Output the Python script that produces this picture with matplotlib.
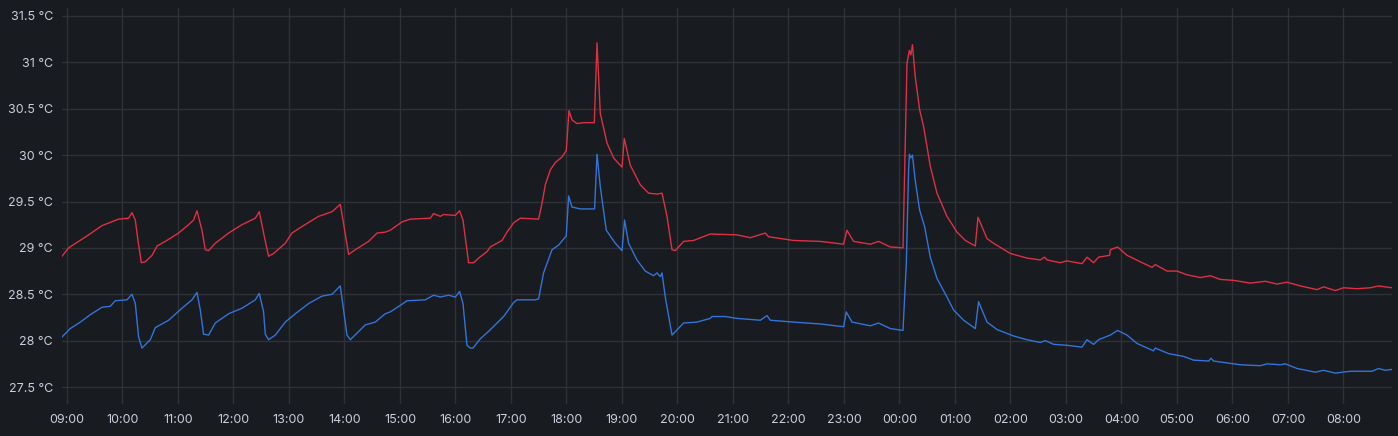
import numpy as np
import matplotlib
matplotlib.use("Agg")
import matplotlib.pyplot as plt
from matplotlib.ticker import FuncFormatter, MultipleLocator

# time in hours since midnight of day 1 (24+ = next day), values in °C
red_t = [8.910, 9.029, 9.389, 9.631, 9.930, 10.110, 10.171, 10.231, 10.279, 10.339,
         10.411, 10.532, 10.622, 10.771, 11.011, 11.191, 11.281, 11.342, 11.432, 11.492,
         11.551, 11.672, 11.912, 12.153, 12.393, 12.465, 12.542, 12.632, 12.723, 12.933,
         13.054, 13.234, 13.533, 13.775, 13.924, 13.984, 14.074, 14.195, 14.434, 14.586,
         14.735, 14.825, 15.036, 15.186, 15.546, 15.605, 15.726, 15.786, 15.996, 16.074,
         16.135, 16.236, 16.326, 16.416, 16.568, 16.627, 16.838, 16.928, 17.047, 17.168,
         17.468, 17.497, 17.559, 17.618, 17.708, 17.798, 17.919, 17.996, 18.045, 18.099,
         18.189, 18.308, 18.501, 18.550, 18.609, 18.730, 18.849, 19.000, 19.041, 19.150,
         19.330, 19.479, 19.631, 19.721, 19.811, 19.901, 19.960, 20.110, 20.290, 20.591,
         21.072, 21.312, 21.582, 21.641, 22.092, 22.572, 22.992, 23.053, 23.173, 23.474,
         23.623, 23.834, 24.063, 24.135, 24.178, 24.205, 24.234, 24.283, 24.362, 24.434,
         24.555, 24.676, 24.856, 25.036, 25.186, 25.366, 25.414, 25.577, 25.695, 25.996,
         26.297, 26.537, 26.614, 26.658, 26.897, 27.018, 27.288, 27.378, 27.497, 27.587,
         27.786, 27.798, 27.930, 28.099, 28.339, 28.550, 28.609, 28.820, 29.000, 29.180,
         29.420, 29.600, 29.780, 30.020, 30.321, 30.591, 30.802, 30.982, 31.222, 31.523,
         31.641, 31.852, 32.002, 32.243, 32.483, 32.632, 32.874]
red_v = [28.91, 29.00, 29.14, 29.24, 29.31, 29.32, 29.38, 29.30, 29.08, 28.84,
         28.85, 28.92, 29.02, 29.07, 29.16, 29.25, 29.30, 29.40, 29.19, 28.98,
         28.97, 29.05, 29.16, 29.25, 29.32, 29.39, 29.16, 28.91, 28.94, 29.05,
         29.16, 29.23, 29.34, 29.39, 29.47, 29.26, 28.93, 28.98, 29.07, 29.16,
         29.17, 29.19, 29.28, 29.31, 29.32, 29.37, 29.34, 29.36, 29.35, 29.40,
         29.30, 28.84, 28.84, 28.89, 28.96, 29.01, 29.08, 29.17, 29.27, 29.32,
         29.31, 29.31, 29.48, 29.68, 29.84, 29.92, 29.98, 30.05, 30.48, 30.38,
         30.34, 30.35, 30.35, 31.21, 30.45, 30.13, 29.97, 29.87, 30.18, 29.89,
         29.68, 29.59, 29.58, 29.59, 29.34, 28.98, 28.97, 29.07, 29.08, 29.15,
         29.14, 29.11, 29.16, 29.12, 29.08, 29.07, 29.04, 29.19, 29.07, 29.04,
         29.07, 29.01, 29.00, 30.99, 31.13, 31.08, 31.19, 30.85, 30.49, 30.31,
         29.88, 29.59, 29.34, 29.17, 29.08, 29.02, 29.33, 29.10, 29.05, 28.94,
         28.89, 28.87, 28.90, 28.87, 28.84, 28.86, 28.83, 28.90, 28.84, 28.90,
         28.92, 28.98, 29.01, 28.92, 28.85, 28.79, 28.82, 28.75, 28.75, 28.71,
         28.68, 28.70, 28.66, 28.65, 28.62, 28.64, 28.61, 28.63, 28.59, 28.55,
         28.58, 28.54, 28.57, 28.56, 28.57, 28.59, 28.57]

blue_t = [8.910, 9.059, 9.240, 9.420, 9.631, 9.780, 9.870, 10.081, 10.171, 10.231,
          10.290, 10.351, 10.501, 10.591, 10.831, 11.072, 11.252, 11.342, 11.402, 11.461,
          11.551, 11.672, 11.912, 12.153, 12.393, 12.465, 12.542, 12.573, 12.632, 12.753,
          12.933, 13.114, 13.353, 13.595, 13.775, 13.924, 13.984, 14.045, 14.105, 14.375,
          14.555, 14.735, 14.825, 15.005, 15.126, 15.456, 15.605, 15.726, 15.876, 15.996,
          16.074, 16.135, 16.207, 16.267, 16.315, 16.447, 16.596, 16.748, 16.867, 17.047,
          17.108, 17.438, 17.497, 17.587, 17.739, 17.858, 17.996, 18.038, 18.099, 18.249,
          18.506, 18.550, 18.609, 18.717, 18.880, 19.000, 19.047, 19.119, 19.270, 19.420,
          19.569, 19.631, 19.690, 19.721, 19.780, 19.901, 20.110, 20.351, 20.591, 20.622,
          20.861, 21.072, 21.492, 21.613, 21.672, 22.092, 22.573, 22.993, 23.041, 23.144,
          23.474, 23.623, 23.834, 24.063, 24.123, 24.164, 24.178, 24.205, 24.234, 24.283,
          24.362, 24.452, 24.555, 24.676, 24.856, 24.975, 25.155, 25.366, 25.425, 25.577,
          25.757, 26.056, 26.297, 26.537, 26.627, 26.777, 27.018, 27.288, 27.378, 27.497,
          27.587, 27.798, 27.930, 28.099, 28.279, 28.578, 28.609, 28.849, 29.119, 29.299,
          29.570, 29.613, 29.660, 30.020, 30.141, 30.501, 30.622, 30.862, 30.952, 31.162,
          31.492, 31.641, 31.852, 32.123, 32.362, 32.514, 32.632, 32.753, 32.874]
blue_v = [28.04, 28.13, 28.20, 28.28, 28.36, 28.37, 28.43, 28.44, 28.50, 28.40,
          28.04, 27.92, 28.01, 28.14, 28.22, 28.35, 28.44, 28.52, 28.33, 28.07,
          28.06, 28.19, 28.29, 28.35, 28.44, 28.51, 28.31, 28.07, 28.01, 28.06,
          28.20, 28.29, 28.40, 28.48, 28.50, 28.59, 28.33, 28.06, 28.01, 28.17,
          28.20, 28.29, 28.31, 28.38, 28.43, 28.44, 28.49, 28.47, 28.49, 28.47,
          28.53, 28.40, 27.95, 27.92, 27.92, 28.02, 28.10, 28.19, 28.26, 28.41,
          28.44, 28.44, 28.45, 28.73, 28.98, 29.03, 29.13, 29.56, 29.44, 29.42,
          29.42, 30.01, 29.66, 29.19, 29.05, 28.97, 29.30, 29.05, 28.87, 28.75,
          28.70, 28.73, 28.69, 28.73, 28.47, 28.06, 28.19, 28.20, 28.24, 28.26,
          28.26, 28.24, 28.22, 28.27, 28.22, 28.20, 28.18, 28.15, 28.31, 28.20,
          28.16, 28.19, 28.13, 28.11, 28.83, 29.84, 30.01, 29.97, 30.00, 29.73,
          29.41, 29.23, 28.90, 28.67, 28.47, 28.33, 28.22, 28.13, 28.42, 28.20,
          28.12, 28.05, 28.01, 27.98, 28.00, 27.96, 27.95, 27.93, 28.01, 27.96,
          28.01, 28.06, 28.11, 28.06, 27.97, 27.89, 27.92, 27.86, 27.83, 27.79,
          27.78, 27.81, 27.78, 27.75, 27.74, 27.73, 27.75, 27.74, 27.75, 27.70,
          27.66, 27.68, 27.65, 27.67, 27.67, 27.67, 27.70, 27.68, 27.69]

hour_ticks = list(range(9, 33))

bg = "#181b1f"
txt = "#ccccdc"
grid_c = "#2e3136"

plt.rcParams['font.family'] = ['Inter', 'DejaVu Sans']

fig = plt.figure(figsize=(13.98, 4.36), dpi=100, facecolor=bg)
ax = fig.add_axes([62 / 1398, 1 - 404 / 436, 1330 / 1398, 396 / 436])
ax.set_facecolor(bg)

ax.plot(red_t, red_v, color="#e02f44", lw=1.0)
ax.plot(blue_t, blue_v, color="#3274d9", lw=1.0)

ax.set_xlim(red_t[0], red_t[-1])
ax.set_ylim(27.317, 31.586)
ax.set_xticks(hour_ticks)
ax.xaxis.set_major_formatter(FuncFormatter(lambda h, p: "%02d:00" % (int(round(h)) % 24)))
ax.yaxis.set_major_locator(MultipleLocator(0.5))
ax.yaxis.set_major_formatter(FuncFormatter(lambda v, p: ("%g" % v) + " °C"))

ax.grid(True, color=grid_c, lw=1)
ax.set_axisbelow(True)
for s in ax.spines.values():
    s.set_visible(False)
ax.tick_params(axis="both", length=0, colors=txt, labelsize=9)
ax.tick_params(axis="y", pad=6.5)
ax.tick_params(axis="x", pad=7.5)

fig.savefig("out.png", dpi=100, facecolor=bg)
